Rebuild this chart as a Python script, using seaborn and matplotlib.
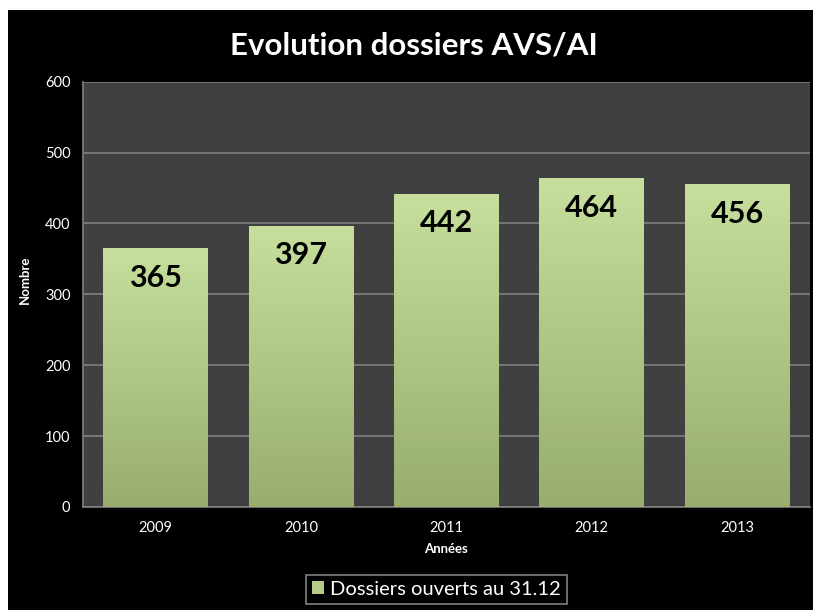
import numpy as np
import pandas as pd
import seaborn as sns
import matplotlib.pyplot as plt
from matplotlib.colors import LinearSegmentedColormap
from matplotlib.patches import Rectangle

years = ["2009", "2010", "2011", "2012", "2013"]
dossiers = [365, 397, 442, 464, 456]
series_name = "Dossiers ouverts au 31.12"

sns.set_style("dark")
plt.rcParams['font.family'] = ['Lato', 'DejaVu Sans']

df = pd.DataFrame({"Années": years, "Nombre": dossiers})

fig = plt.figure(figsize=(8.13, 6.10), dpi=100, facecolor="white")
# black chart area, white strip on top and left as in the screenshot
fig.patches.append(Rectangle((8 / 813, 0), 1, 1 - 10 / 610, transform=fig.transFigure,
                             facecolor="black", edgecolor="none", zorder=-10))

ax = fig.add_axes([0.102, 0.169, 0.894, 0.697])
ax.set_facecolor("#404040")
sns.barplot(data=df, x="Années", y="Nombre", color="#b3cc88", width=0.72,
            edgecolor="none", linewidth=0, ax=ax, zorder=3)

# vertical gradient on the bars
grad = LinearSegmentedColormap.from_list("g", ["#98ad6e", "#c6df9c"])
for bar in ax.patches:
    x0, y0 = bar.get_x(), bar.get_y()
    w, h = bar.get_width(), bar.get_height()
    img = ax.imshow(np.linspace(0, 1, 100).reshape(-1, 1), cmap=grad,
                    extent=[x0, x0 + w, y0, y0 + h], origin="lower",
                    aspect="auto", zorder=3)
    img.set_clip_path(bar)

ax.set_xlim(-0.5, 4.5)
ax.set_ylim(0, 600)
ax.set_yticks(range(0, 700, 100))
ax.yaxis.grid(True, color="#808080", lw=1.2, zorder=0)
ax.set_axisbelow(True)

for s in ["top", "right"]:
    ax.spines[s].set_visible(False)
for s in ["left", "bottom"]:
    ax.spines[s].set_color("#808080")
    ax.spines[s].set_linewidth(1.2)

ax.tick_params(axis="y", colors="white", labelsize=10.5, length=5, width=1.2,
               direction="out", pad=4)
ax.tick_params(axis="y", which="both", color="#808080")
ax.set_xticks(np.arange(-0.5, 5, 1), minor=True)
ax.tick_params(axis="x", which="major", length=0, labelcolor="white",
               labelsize=10.5, pad=10)
ax.tick_params(axis="x", which="minor", length=5, width=1.2, color="#808080")
ax.set_xlabel("")
ax.set_ylabel("")

for i, v in enumerate(dossiers):
    ax.text(i, v - 42, str(v), ha="center", va="center", fontsize=22,
            fontweight="bold", color="black", zorder=5)

fig.text(0.509, 0.925, "Evolution dossiers AVS/AI", ha="center", va="center",
         fontsize=22.5, fontweight="bold", color="white")
fig.text(0.031, 0.541, "Nombre", ha="center", va="center", rotation=90,
         fontsize=9.5, fontweight="bold", color="white")
fig.text(0.549, 0.1, "Années", ha="center", va="center",
         fontsize=9.5, fontweight="bold", color="white")

handle = Rectangle((0, 0), 1, 1, facecolor="#b3cc88", edgecolor="none")
leg = fig.legend([handle], [series_name], loc="center",
                 bbox_to_anchor=(0.537, 0.034), fontsize=14.5, frameon=True,
                 fancybox=False, labelcolor="white", handlelength=0.6,
                 handleheight=0.6, handletextpad=0.3, borderpad=0.3)
leg.get_frame().set_facecolor("black")
leg.get_frame().set_edgecolor("#a0a0a0")
leg.get_frame().set_linewidth(1.2)

fig.savefig("out.png", dpi=100, facecolor=fig.get_facecolor())
